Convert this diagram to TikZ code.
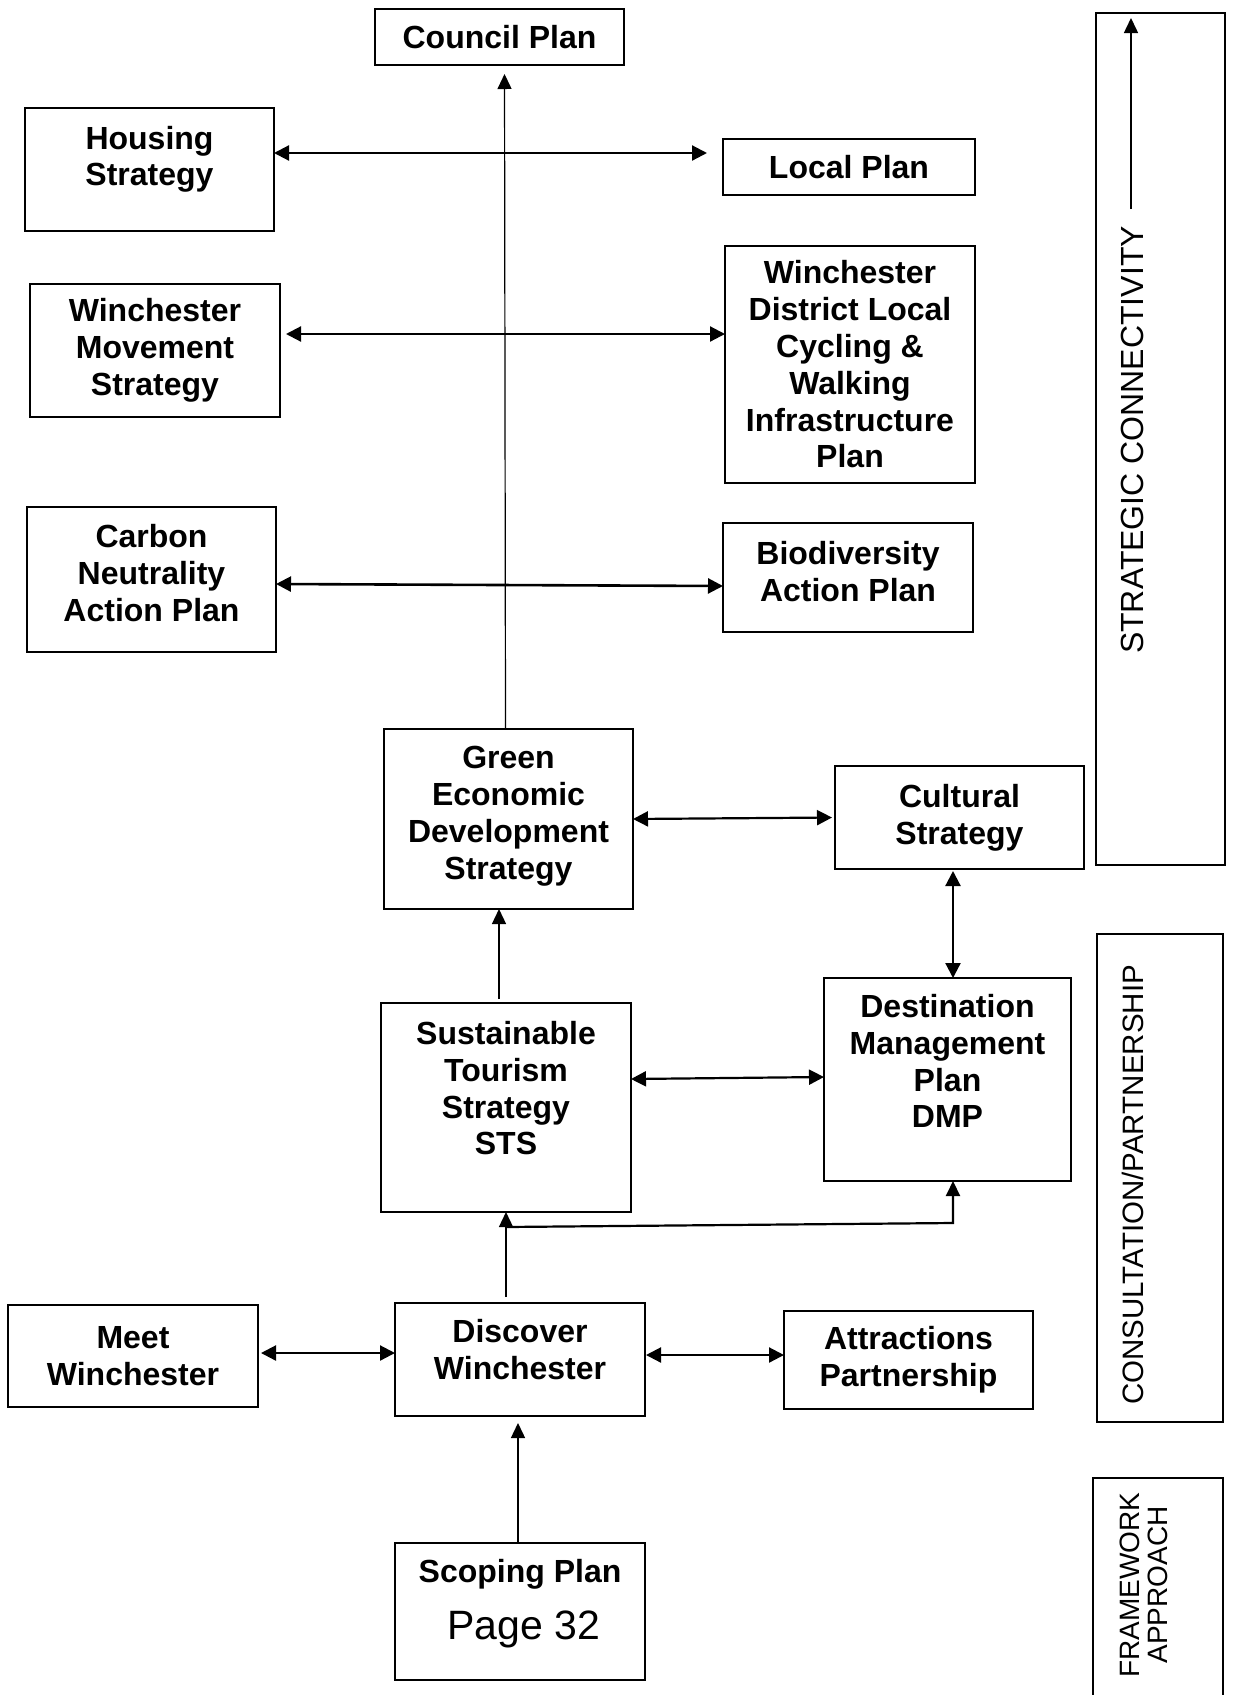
\documentclass[tikz,border=0pt]{standalone}
\usepackage{fontspec}
\setmainfont{Liberation Sans}
\usepackage{tikz}
\usetikzlibrary{arrows.meta,calc}

\newcommand{\drop}[1]{\rule[-#1]{0pt}{#1}}

\begin{document}
\begin{tikzpicture}[x=1pt,y=-1pt,every node/.style={outer sep=0pt}]

\tikzstyle{plan}=[draw,line width=1.2pt,align=center,inner sep=0pt,font=\fontsize{32pt}{36.8pt}\selectfont\bfseries]
\tikzstyle{sidebox}=[draw,line width=1.2pt,inner sep=0pt]
\tikzstyle{sidetext}=[rotate=90,inner sep=0pt,align=center]
\tikzstyle{twoarrow}=[{Triangle[length=15pt,width=15pt]}-{Triangle[length=15pt,width=15pt]},line width=2.2pt]
\tikzstyle{onearrow}=[-{Triangle[length=15pt,width=14pt]},line width=1.3pt]

\useasboundingbox (0,0) rectangle (1232,1695);

% strategic column
\node (council) [plan,minimum width=249pt,minimum height=56pt] at (499.5,37) {Council Plan};
\node (housing) [plan,minimum width=249pt,minimum height=123pt] at (149.5,169.5) {Housing\\Strategy\drop{27pt}};
\node (local) [plan,minimum width=252pt,minimum height=56pt] at (849,167) {Local Plan};
\node (movement) [plan,minimum width=250pt,minimum height=133pt] at (155,350.5) {Winchester\\Movement\\Strategy};
\node (wdlcwip) [plan,minimum width=250pt,minimum height=237pt] at (850,364.5) {Winchester\\District Local\\Cycling \&\\Walking\\Infrastructure\\Plan};
\node (carbon) [plan,minimum width=249pt,minimum height=145pt] at (151.5,579.5) {Carbon\\Neutrality\\Action Plan\drop{13pt}};
\node (bio) [plan,minimum width=250pt,minimum height=109pt] at (848,577.5) {Biodiversity\\Action Plan\drop{13pt}};

% tourism block
\node (geds) [plan,minimum width=249pt,minimum height=180pt] at (508.5,819) {Green\\Economic\\Development\\Strategy\drop{12pt}};
\node (cultural) [plan,minimum width=249pt,minimum height=103pt] at (959.5,817.5) {Cultural\\Strategy\drop{7pt}};
\node (sts) [plan,minimum width=250pt,minimum height=209pt] at (506,1107.5) {Sustainable\\Tourism\\Strategy\\STS\drop{39pt}};
\node (dmp) [plan,minimum width=247pt,minimum height=203pt] at (947.5,1079.5) {Destination\\Management\\Plan\\DMP\drop{37pt}};

% partners
\node (meet) [plan,minimum width=250pt,minimum height=102pt] at (133,1356) {Meet\\Winchester};
\node (discover) [plan,minimum width=250pt,minimum height=113pt] at (520,1359.5) {Discover\\Winchester\drop{21pt}};
\node (attractions) [plan,minimum width=249pt,minimum height=98pt] at (908.5,1360) {Attractions\\Partnership};
\node (scoping) [plan,minimum width=250pt,minimum height=137pt] at (520,1611.5) {Scoping Plan\\[20pt]{\fontsize{41pt}{47pt}\selectfont\mdseries\hspace*{8pt}Page 32\drop{24pt}}};

% side bands
\node (strategic) [sidebox,minimum width=129pt,minimum height=852pt] at (1160.5,439) {};
\node (stratlabel) [sidetext,font=\fontsize{32pt}{36pt}\selectfont] at (1132,440) {STRATEGIC CONNECTIVITY};
\coordinate (stratfoot) at (1131,209);
\coordinate (strattip) at (1131,18);
\draw [onearrow,line width=1.5pt] (stratfoot) -- (strattip);

\node (consult) [sidebox,minimum width=126pt,minimum height=488pt] at (1160,1178) {};
\node (consultlabel) [sidetext,font=\fontsize{29.5pt}{32pt}\selectfont] at (1133,1185) {CONSULTATION/PARTNERSHIP};

\draw [line width=1.2pt] (1093,1710) -- (1093,1478) -- (1223,1478) -- (1223,1710);
\node (framelabel) [sidetext,font=\fontsize{28pt}{28.5pt}\selectfont] at (1144,1585) {FRAMEWORK\\APPROACH};

% links
\draw [onearrow,line width=1.2pt,shorten >=9pt] ([xshift=-3pt]geds.north) -- ([xshift=5pt]council.south);
\draw [twoarrow,shorten >=16pt] ([yshift=16.5pt]housing.east) -- ([yshift=14pt]local.west);
\draw [twoarrow,shorten <=6pt] ([yshift=16.5pt]movement.east) -- ([yshift=30.5pt]wdlcwip.west);
\draw [twoarrow,line width=2.6pt] ([yshift=-4.5pt]carbon.east) -- ([yshift=-8.5pt]bio.west);
\draw [twoarrow,shorten >=3pt] (geds.east) -- (cultural.west);
\draw [twoarrow,shorten <=2pt] ([xshift=-6.5pt]cultural.south) -- ([xshift=5.5pt]dmp.north);
\draw [twoarrow] ([yshift=28.5pt]sts.east) -- ([yshift=2.5pt]dmp.west);
\draw [onearrow,shorten <=4pt] ([xshift=-7pt]sts.north) -- ([xshift=-9.5pt]geds.south);
\draw [onearrow,shorten <=6pt] ([xshift=-14pt]discover.north) -- (sts.south);

\coordinate (fork) at (506,1227);
\coordinate (bend) at (953,1223);
\draw [onearrow,line width=2.2pt] (fork) -- (bend) -- ([xshift=5.5pt]dmp.south);

\draw [twoarrow,shorten <=3pt] ([yshift=3pt]meet.east) -- ([yshift=6.5pt]discover.west);
\draw [twoarrow,shorten <=1pt] ([yshift=4.5pt]discover.east) -- ([yshift=5pt]attractions.west);
\draw [onearrow,line width=1.5pt,shorten >=7pt] ([xshift=-2pt]scoping.north) -- ([xshift=-2pt]discover.south);

\end{tikzpicture}
\end{document}
